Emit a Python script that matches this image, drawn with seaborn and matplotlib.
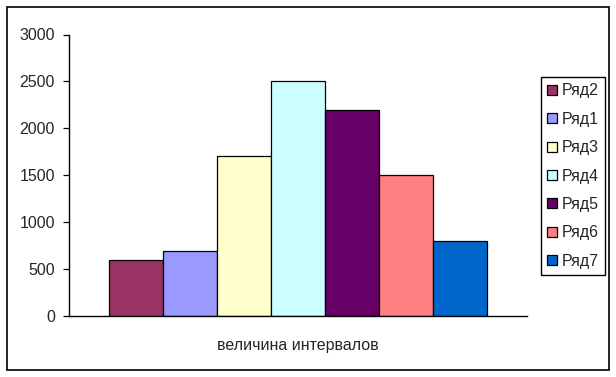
import matplotlib
matplotlib.use("Agg")
import matplotlib.pyplot as plt
import seaborn as sns
import pandas as pd
from matplotlib.patches import Rectangle

# Data
category = ["величина интервалов"]
series = ["Ряд2", "Ряд1", "Ряд3", "Ряд4", "Ряд5", "Ряд6", "Ряд7"]
values = [600, 690, 1700, 2500, 2200, 1500, 800]
colors = ["#993366", "#9999FF", "#FFFFCC", "#CCFFFF", "#660066", "#FF8080", "#0066CC"]
yticks = [0, 500, 1000, 1500, 2000, 2500, 3000]

df = pd.DataFrame({"cat": category * len(series), "series": series, "value": values})

sns.set_style("white")
plt.rcParams["font.family"] = ["Liberation Sans", "DejaVu Sans"]

W, H = 616, 377
fig = plt.figure(figsize=(W / 100, H / 100), dpi=100)
fig.patch.set_facecolor("white")

# outer border
fig.patches.append(Rectangle((7 / W, 1 - 370 / H), (609 - 7) / W, (370 - 7) / H,
                             transform=fig.transFigure, fill=False,
                             edgecolor="black", linewidth=1.2))

ax = fig.add_axes([69 / W, 1 - 316 / H, (527 - 69) / W, (316 - 34.5) / H])
sns.barplot(data=df, x="cat", y="value", hue="series", hue_order=series,
            palette=colors, saturation=1, edgecolor="black", linewidth=0.9,
            width=7 / 8.5, ax=ax, legend=True)

FS = 11.5
ax.set_ylim(0, 3000)
ax.set_yticks(yticks)
ax.set_yticklabels([str(v) for v in yticks], fontsize=FS)
ax.set_xlim(-0.5, 0.5)
ax.set_xlabel("")
ax.set_ylabel("")
ax.tick_params(axis="y", direction="out", length=4, width=0.9, color="black", pad=6, left=True)
ax.tick_params(axis="x", length=0, pad=16, labelsize=FS)
for s in ["top", "right"]:
    ax.spines[s].set_visible(False)
for s in ["left", "bottom"]:
    ax.spines[s].set_color("black")
    ax.spines[s].set_linewidth(1)
ax.set_facecolor("white")
ax.grid(False)

handles, labels = ax.get_legend_handles_labels()
ax.legend(handles, labels, loc="upper left",
          bbox_to_anchor=(541 / W, 1 - 77 / H), bbox_transform=fig.transFigure,
          frameon=True, fancybox=False, edgecolor="black", framealpha=1,
          fontsize=FS, handlelength=0.6, handleheight=0.6, handletextpad=0.3,
          labelspacing=0.84, borderpad=0.4, borderaxespad=0)
ax.get_legend().get_frame().set_linewidth(1)

fig.savefig("out.png", dpi=100)
